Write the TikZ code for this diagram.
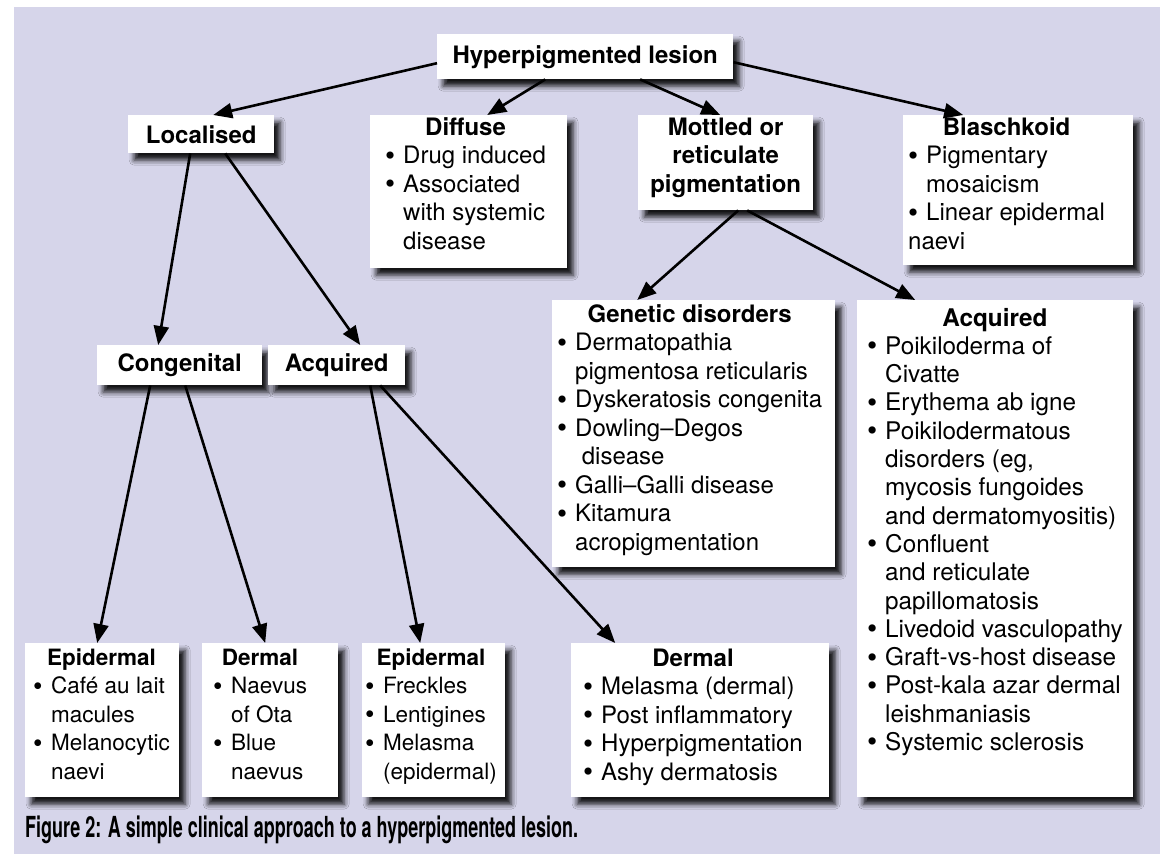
\documentclass[tikz,border=0pt]{standalone}
\usepackage{fontspec}
\setmainfont{TeX Gyre Heros}
\usetikzlibrary{arrows.meta,shadows.blur}
\definecolor{bgl}{RGB}{214,213,234}
\newcommand\bitem{\makebox[18pt][l]{\raisebox{-0.06em}{\scalebox{1.2}{\textbullet}}}}
\newcommand\bcont{\hspace*{18pt}}
\newcommand\hd[1]{\multicolumn{1}{@{}c@{}}{\bfseries #1}}
\begin{document}
\begin{tikzpicture}[x=1pt,y=-1pt,
  box/.style={draw=none, fill=white, rectangle, inner sep=0pt, anchor=north west,
    blur shadow={shadow xshift=6pt, shadow yshift=-7pt, shadow blur radius=5pt, shadow opacity=90}},
  txt/.style={anchor=north west, inner sep=0pt, font=\fontsize{24}{28.5}\selectfont},
  small/.style={font=\fontsize{22.5}{28.5}\selectfont},
  big/.style={font=\fontsize{24.3}{28.3}\selectfont},
  conn/.style={line width=2.6pt, -{Triangle[length=19pt,width=15pt]}},
  ]
\useasboundingbox (0,0) rectangle (1172,854);
\fill[bgl] (14,7) rectangle (1160,854);

% boxes
\node[box, minimum width=296pt, minimum height=45pt] (hyper) at (437,34) {};
\node[box, minimum width=146pt, minimum height=38pt] (loc) at (128,115) {};
\node[box, minimum width=197pt, minimum height=153pt] (diff) at (370,115) {};
\node[box, minimum width=175pt, minimum height=95pt] (mott) at (638,115) {};
\node[box, minimum width=230pt, minimum height=150pt] (blas) at (903,115) {};
\node[box, minimum width=283pt, minimum height=267pt] (gen) at (552,300) {};
\node[box, minimum width=276pt, minimum height=497pt] (acqR) at (857,300) {};
\node[box, minimum width=165pt, minimum height=40pt] (cong) at (97,345) {};
\node[box, minimum width=137pt, minimum height=40pt] (acqM) at (268,345) {};
\node[box, minimum width=154pt, minimum height=154pt] (epi1) at (25,643) {};
\node[box, minimum width=136pt, minimum height=154pt] (der1) at (202,643) {};
\node[box, minimum width=143pt, minimum height=154pt] (epi2) at (362,643) {};
\node[box, minimum width=258pt, minimum height=154pt] (der2) at (571,643) {};

% connectors
\draw[conn] ([yshift=-6.5pt]hyper.west) -- ([xshift=12pt]loc.north);
\draw[conn] ([xshift=-40pt]hyper.south) -- ([xshift=18.5pt]diff.north);
\draw[conn] ([xshift=55pt]hyper.south) -- ([xshift=-5.5pt]mott.north);
\draw[conn] ([yshift=-5.5pt]hyper.east) -- ([xshift=-55pt]blas.north);
\draw[conn] ([xshift=-11pt]loc.south) -- ([xshift=-21.5pt]cong.north);
\draw[conn] ([xshift=24pt]loc.south) -- ([xshift=23.5pt]acqM.north);
\draw[conn] ([xshift=12.5pt]mott.south) -- ([xshift=-56.5pt]gen.north);
\draw[conn] ([xshift=21.5pt]mott.south) -- ([xshift=-80pt]acqR.north);
\draw[conn] ([xshift=-29.5pt]cong.south) -- ([xshift=-5pt]epi1.north);
\draw[conn] ([xshift=5.5pt]cong.south) -- ([xshift=-5pt]der1.north);
\draw[conn] ([xshift=33.5pt]acqM.south) -- ([xshift=-13.5pt]epi2.north);
\draw[conn] ([xshift=43.5pt]acqM.south) -- ([xshift=-85pt]der2.north);

% texts
\node[txt, anchor=center] (hyperT) at (hyper.center) {\bfseries Hyperpigmented lesion};
\node[txt, anchor=center] (locT) at (loc.center) {\bfseries Localised};
\node[txt, anchor=center] (congT) at (cong.center) {\bfseries Congenital};
\node[txt, anchor=center] (acqMT) at (acqM.center) {\bfseries Acquired};
\node[txt, anchor=north] (mottT) at (mott.north) {\begin{tabular}{@{}c@{}}\bfseries Mottled or\\ \bfseries reticulate\\ \bfseries pigmentation\end{tabular}};

\node[txt] (diffT) at (385,115) {\begin{tabular}{@{}l@{}}\hd{Diffuse}\\
\bitem Drug induced\\ \bitem Associated\\ \bcont with systemic\\ \bcont disease\end{tabular}};

\node[txt] (blasT) at (908,115) {\begin{tabular}{@{}l@{}}\hd{Blaschkoid}\\
\bitem Pigmentary\\ \bcont mosaicism\\ \bitem Linear epidermal\\ naevi\end{tabular}};

\node[txt] (genT) at (557,302) {\begin{tabular}{@{}l@{}}\hd{Genetic disorders}\\
\bitem Dermatopathia\\ \bcont pigmentosa reticularis\\ \bitem Dyskeratosis congenita\\
\bitem Dowling–Degos\\ \bcont\ disease\\ \bitem Galli–Galli disease\\
\bitem Kitamura\\ \bcont acropigmentation\end{tabular}};

\node[txt, big] (acqRT) at (867,306) {\begin{tabular}{@{}l@{}}\hd{Acquired}\\
\bitem Poikiloderma of\\ \bcont Civatte\\ \bitem Erythema ab igne\\
\bitem Poikilodermatous\\ \bcont disorders (eg,\\ \bcont mycosis fungoides\\ \bcont and dermatomyositis)\\
\bitem Confluent\\ \bcont and reticulate\\ \bcont papillomatosis\\
\bitem Livedoid vasculopathy\\ \bitem Graft-vs-host disease\\
\bitem Post-kala azar dermal\\ \bcont leishmaniasis\\ \bitem Systemic sclerosis\end{tabular}};

\node[txt, small] (epi1T) at (33,645) {\begin{tabular}{@{}l@{}}\hd{Epidermal}\\
\bitem Café au lait\\ \bcont macules\\ \bitem Melanocytic\\ \bcont naevi\end{tabular}};

\node[txt, small] (der1T) at (213,645) {\begin{tabular}{@{}l@{}}\hd{Dermal}\\
\bitem Naevus\\ \bcont of Ota\\ \bitem Blue\\ \bcont naevus\end{tabular}};

\node[txt, small] (epi2T) at (365,645) {\begin{tabular}{@{}l@{}}\hd{Epidermal}\\
\bitem Freckles\\ \bitem Lentigines\\ \bitem Melasma\\ \bcont (epidermal)\end{tabular}};

\node[txt] (der2T) at (583,646) {\begin{tabular}{@{}l@{}}\hd{Dermal}\\
\bitem Melasma (dermal)\\ \bitem Post inflammatory\\ \bitem Hyperpigmentation\\ \bitem Ashy dermatosis\end{tabular}};

% caption
\node[anchor=base west, inner sep=0pt] (cap) at (25,837)
  {\resizebox{553pt}{\height}{\fontsize{29}{32}\selectfont\bfseries Figure 2: A simple clinical approach to a hyperpigmented lesion.}};
\end{tikzpicture}
\end{document}
